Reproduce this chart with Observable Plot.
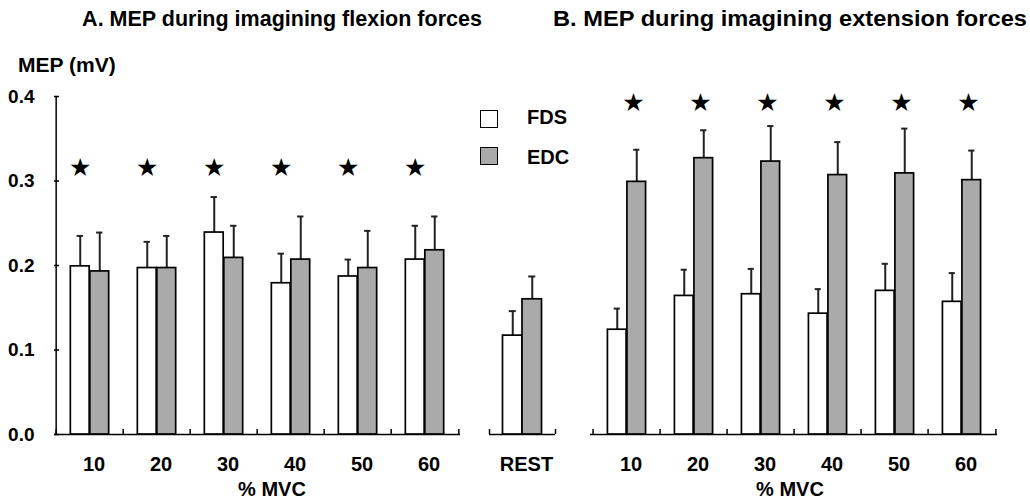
<!DOCTYPE html>
<html><head><meta charset="utf-8">
<script src="https://cdn.jsdelivr.net/npm/d3@7"></script>
<script src="https://cdn.jsdelivr.net/npm/@observablehq/plot@0.6"></script>
<style>
html,body{margin:0;padding:0;background:#fff;}
#chart{position:relative;width:1030px;height:504px;font-family:"Liberation Sans",Arial,sans-serif;font-weight:bold;color:#000;overflow:hidden;}
#chart svg{position:absolute;left:0;top:0;}
.lbl{position:absolute;white-space:nowrap;font-weight:bold;line-height:1;}
.sw{position:absolute;width:16px;height:16px;border:1.5px solid #000;}
</style></head><body><div id="chart"></div>
<script>
// ---- data ----
const mvcGroups = ["10", "20", "30", "40", "50", "60"];
const restGroups = ["REST"];
const seriesNames = ["FDS", "EDC"];
const yTicks = [0, 0.1, 0.2, 0.3, 0.4];

// A. flexion
const flexFDS    = [0.199, 0.197, 0.239, 0.179, 0.187, 0.207];
const flexFDSerr = [0.036, 0.031, 0.042, 0.035, 0.020, 0.040];
const flexEDC    = [0.193, 0.197, 0.209, 0.207, 0.197, 0.218];
const flexEDCerr = [0.046, 0.038, 0.038, 0.051, 0.044, 0.040];
const flexStars  = [true, true, true, true, true, true];
const flexStarLevel = 0.315;

// REST
const restFDS = [0.117], restFDSerr = [0.029];
const restEDC = [0.160], restEDCerr = [0.027];

// B. extension
const extFDS    = [0.124, 0.164, 0.166, 0.143, 0.170, 0.157];
const extFDSerr = [0.025, 0.031, 0.030, 0.029, 0.032, 0.034];
const extEDC    = [0.299, 0.327, 0.323, 0.307, 0.309, 0.301];
const extEDCerr = [0.038, 0.033, 0.042, 0.039, 0.053, 0.035];
const extStars  = [true, true, true, true, true, true];
const extStarLevel = 0.392;

// ---- drawing ----
const W = 1030, H = 504, TOP = 96, BOTTOM = 70;
const BW = 19.5;            // bar width (px)
const GREY = "#aaaaaa";
const chart = document.getElementById("chart");

function panel({groups, fds, fdsErr, edc, edcErr, x0, x1, yAxis = false, xAxis = true, stars = null, starLevel = 0, starDx = 0}) {
  const half = (x1 - x0) / groups.length / 2;
  const F = groups.map((g, i) => ({group: g, series: seriesNames[0], value: fds[i], err: fdsErr[i]}));
  const E = groups.map((g, i) => ({group: g, series: seriesNames[1], value: edc[i], err: edcErr[i]}));
  const errStyle = {stroke: "#222", strokeWidth: 2};
  const marks = [
    // baseline and group boundary ticks
    Plot.ruleY([0], {stroke: "#000", strokeWidth: 1.5}),
    Plot.ruleX(groups, {x: d => d, y1: 0, y2: 0, insetTop: -5, dx: -half, stroke: "#000", strokeWidth: 1.5}),
    Plot.ruleX(groups.slice(-1), {x: d => d, y1: 0, y2: 0, insetTop: -5, dx: half, stroke: "#000", strokeWidth: 1.5}),
    // error bars
    Plot.ruleX(F, {x: "group", y1: "value", y2: d => d.value + d.err, dx: -BW / 2, ...errStyle}),
    Plot.tickY(F, {x: "group", y: d => d.value + d.err, dx: -BW / 2, insetLeft: half - 3.5, insetRight: half - 3.5, ...errStyle}),
    Plot.ruleX(E, {x: "group", y1: "value", y2: d => d.value + d.err, dx: BW / 2, ...errStyle}),
    Plot.tickY(E, {x: "group", y: d => d.value + d.err, dx: BW / 2, insetLeft: half - 3.5, insetRight: half - 3.5, ...errStyle}),
    // bars
    Plot.barY(F, {x: "group", y: "value", fill: "#fff", stroke: "#000", strokeWidth: 1.7, insetLeft: half - BW, insetRight: half}),
    Plot.barY(E, {x: "group", y: "value", fill: GREY, stroke: "#000", strokeWidth: 1.7, insetLeft: half, insetRight: half - BW})
  ];
  if (xAxis) marks.push(Plot.axisX({tickSize: 0, tickPadding: 22, dx: 4, label: null, fontSize: 20}));
  if (yAxis) {
    marks.push(
      Plot.ruleX(groups.slice(0, 1), {x: d => d, dx: -half, y1: 0, y2: yTicks[yTicks.length - 1], stroke: "#000", strokeWidth: 1.5}),
      Plot.tickY(yTicks, {y: d => d, insetRight: (x1 - x0) - 5, stroke: "#000", strokeWidth: 1.5}),
      Plot.axisY({ticks: yTicks, tickSize: 0, tickPadding: 20, tickFormat: d3.format(".1f"), label: null})
    );
  }
  if (stars) {
    const S = groups.map((g, i) => ({group: g, on: stars[i]})).filter(d => d.on);
    marks.push(Plot.text(S, {x: "group", y: () => starLevel, text: () => "\u2605", dx: starDx,
      fontFamily: "DejaVu Sans", fontSize: 25, fill: "#000", fontWeight: "normal"}));
  }
  return Plot.plot({
    width: W, height: H,
    marginLeft: x0, marginRight: W - x1, marginTop: TOP, marginBottom: BOTTOM,
    x: {domain: groups, padding: 0, axis: null},
    y: {domain: [0, 0.4], axis: null},
    style: {background: "transparent", fontFamily: "'Liberation Sans', Arial, sans-serif", fontSize: "19px", fontWeight: "bold", color: "#000", overflow: "visible"},
    marks
  });
}

chart.append(panel({groups: mvcGroups, fds: flexFDS, fdsErr: flexFDSerr, edc: flexEDC, edcErr: flexEDCerr,
  x0: 54, x1: 460, yAxis: true, stars: flexStars, starLevel: flexStarLevel, starDx: -BW / 2}));
chart.append(panel({groups: restGroups, fds: restFDS, fdsErr: restFDSerr, edc: restEDC, edcErr: restEDCerr,
  x0: 489, x1: 555}));
chart.append(panel({groups: mvcGroups, fds: extFDS, fdsErr: extFDSerr, edc: extEDC, edcErr: extEDCerr,
  x0: 590, x1: 997, stars: extStars, starLevel: extStarLevel, starDx: 6.5}));

// ---- texts and legend ----
function label(text, css) {
  const d = document.createElement("div");
  d.className = "lbl";
  d.textContent = text;
  Object.assign(d.style, css);
  chart.append(d);
  return d;
}
label("A. MEP during imagining flexion forces", {left: "282px", top: "9px", fontSize: "21.5px", transform: "translateX(-50%)"});
label("B. MEP during imagining extension forces", {left: "790px", top: "9px", fontSize: "21.5px", transform: "translateX(-50%) scaleX(1.1)"});
label("MEP (mV)", {left: "18px", top: "54px", fontSize: "21px"});
label("% MVC", {left: "272px", top: "479px", fontSize: "20px", transform: "translateX(-50%)"});
label("% MVC", {left: "790px", top: "479px", fontSize: "20px", transform: "translateX(-50%)"});

const legendFills = ["#fff", GREY];
seriesNames.forEach((s, i) => {
  const sw = document.createElement("div");
  sw.className = "sw";
  Object.assign(sw.style, {left: "480px", top: (110 + i * 37) + "px", background: legendFills[i]});
  chart.append(sw);
  label(s, {left: "527px", top: (107 + i * 40) + "px", fontSize: "20px"});
});
</script></body></html>
